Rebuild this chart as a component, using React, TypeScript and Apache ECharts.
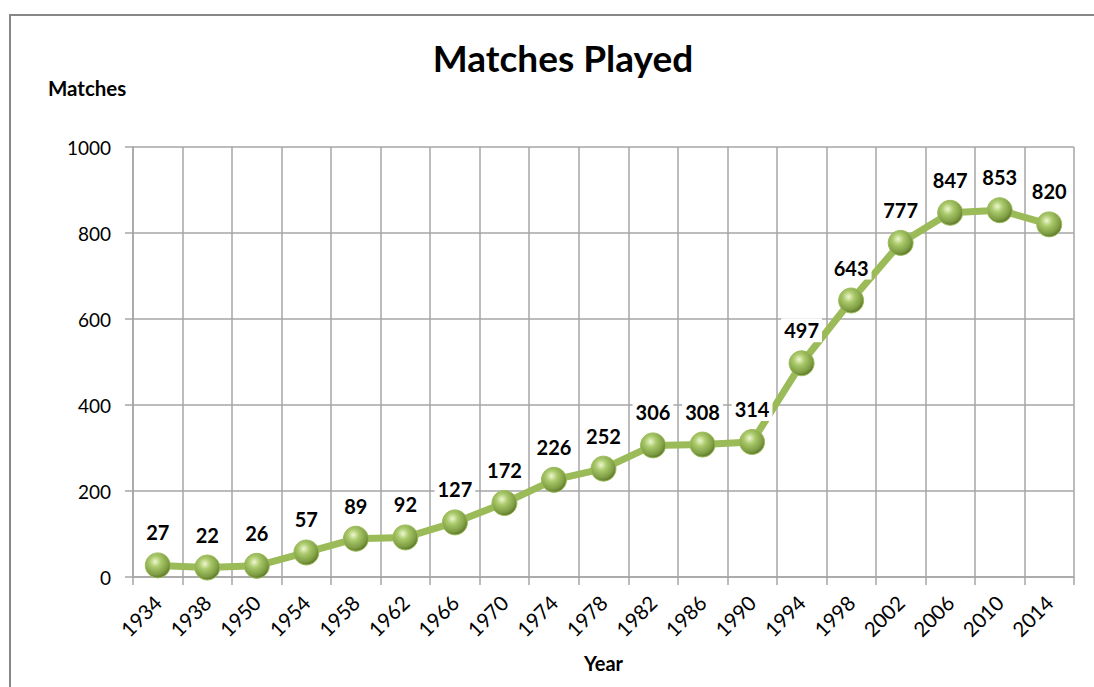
import React, { useEffect, useRef } from "react";
import * as echarts from "echarts";

const years = ["1934", "1938", "1950", "1954", "1958", "1962", "1966", "1970", "1974", "1978", "1982", "1986", "1990", "1994", "1998", "2002", "2006", "2010", "2014"];
const matches = [27, 22, 26, 57, 89, 92, 127, 172, 226, 252, 306, 308, 314, 497, 643, 777, 847, 853, 820];

const FONT = "Lato, 'Open Sans', sans-serif";

export default function App() {
  const ref = useRef<HTMLDivElement>(null);
  useEffect(() => {
    if (!ref.current) return;
    const chart = echarts.init(ref.current, null, { renderer: "svg" });
    chart.setOption({
      animation: false,
      backgroundColor: "#ffffff",
      title: {
        text: "Matches Played",
        left: 558,
        top: 34,
        textAlign: "center",
        textStyle: { fontFamily: FONT, fontSize: 37, fontWeight: "bold", color: "#000" },
      },
      graphic: [
        {
          type: "rect",
          shape: { x: 10, y: 15, width: 1100, height: 700 },
          style: { fill: "none", stroke: "#878787", lineWidth: 2 },
          silent: true,
          z: -1,
        },
      ],
      grid: { left: 133, right: 20, top: 147, bottom: 110 },
      xAxis: {
        type: "category",
        data: years,
        boundaryGap: true,
        name: "Year",
        nameLocation: "middle",
        nameGap: 76,
        nameTextStyle: { fontFamily: FONT, fontSize: 20, fontWeight: "bold", color: "#000" },
        axisLine: { show: true, lineStyle: { color: "#a6a6a6", width: 1.5 } },
        axisTick: { show: true, length: 8, alignWithLabel: false, lineStyle: { color: "#a6a6a6", width: 1.5 } },
        splitLine: { show: true, lineStyle: { color: "#a6a6a6", width: 1.5 } },
        axisLabel: {
          rotate: 45,
          margin: 22,
          fontFamily: FONT,
          fontSize: 20.5,
          color: "#000",
          interval: 0,
        },
      },
      yAxis: {
        type: "value",
        min: 0,
        max: 1000,
        interval: 200,
        name: "Matches",
        nameLocation: "end",
        nameGap: 0,
        nameTextStyle: {
          fontFamily: FONT,
          fontSize: 20.5,
          fontWeight: "bold",
          color: "#000",
          align: "left",
          padding: [0, 0, 49, -85],
        },
        axisLine: { show: true, lineStyle: { color: "#a6a6a6", width: 1.5 } },
        axisTick: { show: true, length: 8, lineStyle: { color: "#a6a6a6", width: 1.5 } },
        splitLine: { show: true, lineStyle: { color: "#a6a6a6", width: 1.5 } },
        axisLabel: {
          fontFamily: FONT,
          fontSize: 19,
          color: "#000",
          margin: 22,
          formatter: (v: number) => String(v),
        },
      },
      series: [
        {
          type: "line",
          data: matches,
          symbol: "circle",
          symbolSize: 25,
          lineStyle: { color: "#9bbb59", width: 7 },
          itemStyle: {
            color: new echarts.graphic.RadialGradient(0.4, 0.35, 0.65, [
              { offset: 0, color: "#eef7cf" },
              { offset: 0.35, color: "#a9c96a" },
              { offset: 0.8, color: "#7f9d43" },
              { offset: 1, color: "#5f7a2c" },
            ]),
            borderColor: "#9bbb59",
            borderWidth: 1,
          },
          label: {
            show: true,
            position: "top",
            distance: 8,
            fontFamily: FONT,
            fontSize: 20,
            fontWeight: "bold",
            color: "#000",
            backgroundColor: "#ffffff",
            padding: [2, 3],
          },
          z: 3,
        },
      ],
    });
    return () => chart.dispose();
  }, []);
  return <div ref={ref} style={{ position: "fixed", left: 0, top: 0, width: 1094, height: 687 }} />;
}
